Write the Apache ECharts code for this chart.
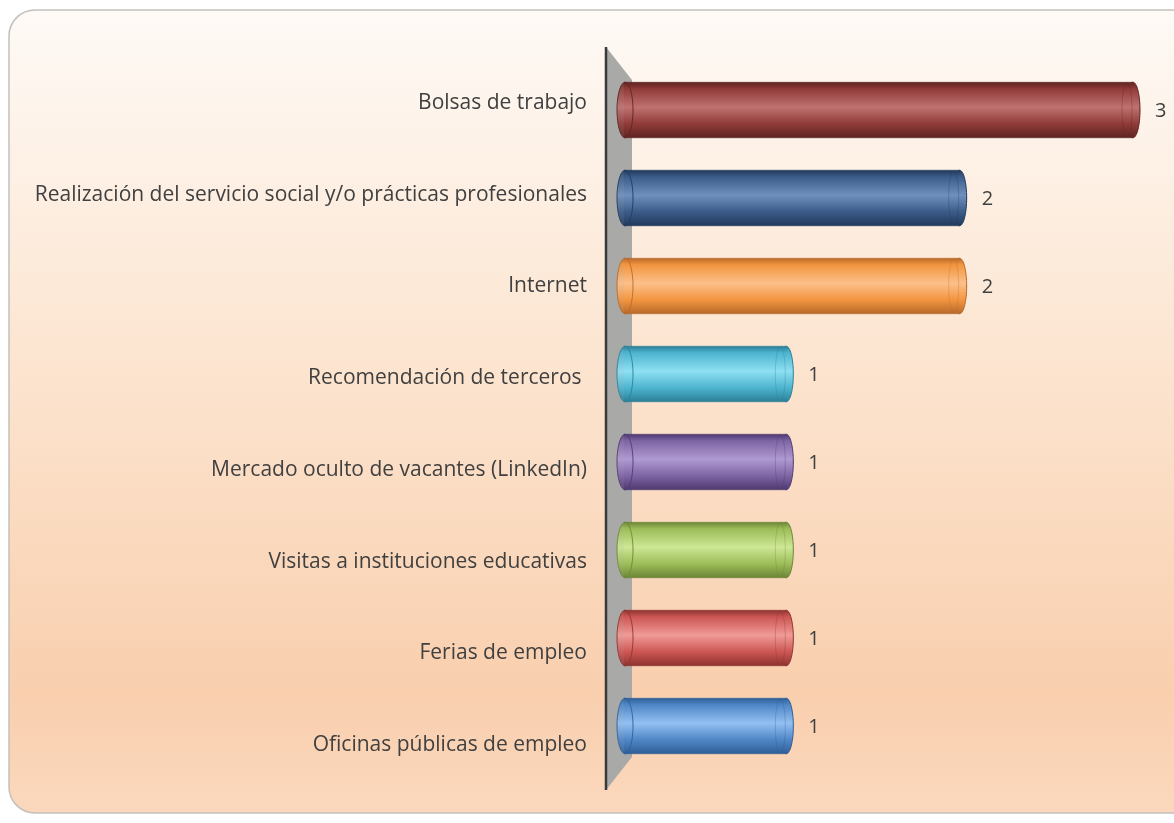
<!DOCTYPE html>
<html>
<head>
<meta charset="utf-8">
<script src="https://cdn.jsdelivr.net/npm/echarts@6/dist/echarts.min.js"></script>
<style>
  html, body { margin: 0; padding: 0; background: #fff; }
  #chart { width: 1174px; height: 823px; }
</style>
</head>
<body>
<div id="chart"></div>
<script type="text/javascript">
// datos
var categorias = [
    'Bolsas de trabajo',
    'Realización del servicio social y/o prácticas profesionales',
    'Internet',
    'Recomendación de terceros ',
    'Mercado oculto de vacantes (LinkedIn)',
    'Visitas a instituciones educativas',
    'Ferias de empleo',
    'Oficinas públicas de empleo'
];
var valores = [3, 2, 2, 1, 1, 1, 1, 1];
// colores de cada cilindro: [oscuro, base, claro]
var colores = [
    ['#5e2422', '#903b39', '#bf7270'],
    ['#213a5c', '#3b5b88', '#6f8fbd'],
    ['#b8692a', '#f2953f', '#fcc08a'],
    ['#2b7f96', '#4db4cf', '#8ee0f2'],
    ['#4f3a70', '#7d64a3', '#b09ad2'],
    ['#6c8636', '#9cbd58', '#cde795'],
    ['#8e3330', '#cc5653', '#f09a97'],
    ['#2f5e97', '#4f86c6', '#93c0f2']
];

function grad(c) {
    return new echarts.graphic.LinearGradient(0, 0, 0, 1, [
        {offset: 0, color: c[0]},
        {offset: 0.12, color: c[1]},
        {offset: 0.45, color: c[2]},
        {offset: 0.75, color: c[1]},
        {offset: 1, color: c[0]}
    ]);
}

var myChart = echarts.init(document.getElementById('chart'));

var option = {
    backgroundColor: 'transparent',
    animation: false,
    graphic: [
        {   // fondo redondeado
            type: 'rect', z: -10, silent: true,
            shape: {x: 9, y: 10, width: 1200, height: 803, r: 26},
            style: {
                fill: new echarts.graphic.LinearGradient(0, 0, 0, 1, [
                    {offset: 0, color: '#fefaf6'},
                    {offset: 0.45, color: '#fce4cf'},
                    {offset: 0.85, color: '#f9cfae'},
                    {offset: 1, color: '#fbd8bd'}
                ]),
                stroke: '#c4c0bc', lineWidth: 1.5
            }
        },
        {   // pared gris
            type: 'polygon', z: -5, silent: true,
            shape: {points: [[606, 47], [632, 80], [632, 757], [606, 790]]},
            style: {fill: '#a9aaa8'}
        },
        {
            type: 'line', z: -4, silent: true,
            shape: {x1: 606, y1: 47, x2: 606, y2: 790},
            style: {stroke: '#3a3a3a', lineWidth: 2.5}
        }
    ],
    grid: [
        {left: 620, right: 34, top: 66, bottom: 53},
        // rejilla solo para las etiquetas (perspectiva)
        {left: 620, right: 34, top: 57, bottom: 32}
    ],
    xAxis: [
        {type: 'value', min: 0, max: 3, show: false, gridIndex: 0},
        {type: 'value', min: 0, max: 3, show: false, gridIndex: 1}
    ],
    yAxis: [
        {
            type: 'category',
            gridIndex: 0,
            inverse: true,
            data: categorias,
            show: false
        },
        {
            type: 'category',
            gridIndex: 1,
            inverse: true,
            data: categorias,
            axisLine: {show: false},
            axisTick: {show: false},
            splitLine: {show: false},
            axisLabel: {
                margin: 33,
                color: '#404040',
                fontSize: 21,
                fontFamily: 'Open Sans'
            }
        }
    ],
    series: [{
        type: 'custom',
        xAxisIndex: 0,
        yAxisIndex: 0,
        data: valores.map(function (v, i) { return [v, i]; }),
        encode: {x: 0, y: 1},
        renderItem: function (params, api) {
            var i = api.value(1);
            var v = api.value(0);
            var p0 = api.coord([0, i]);
            var p1 = api.coord([v, i]);
            var band = api.size([0, 1])[1];
            var h = band * 0.63;
            var yc = p0[1];
            var rx = 7;
            var xl = p0[0] - 3;
            var xr = p1[0];
            var c = colores[i];
            return {
                type: 'group',
                children: [
                    {
                        type: 'ellipse',
                        shape: {cx: xr - rx, cy: yc, rx: rx, ry: h / 2},
                        style: {fill: grad(c), stroke: c[0], lineWidth: 1}
                    },
                    {
                        type: 'rect',
                        shape: {x: xl + rx, y: yc - h / 2, width: xr - xl - 2 * rx, height: h},
                        style: {fill: grad(c)}
                    },
                    {
                        type: 'line',
                        shape: {x1: xl + rx, y1: yc - h / 2, x2: xr - rx, y2: yc - h / 2},
                        style: {stroke: c[0], lineWidth: 1, opacity: 0.6}
                    },
                    {
                        type: 'line',
                        shape: {x1: xl + rx, y1: yc + h / 2, x2: xr - rx, y2: yc + h / 2},
                        style: {stroke: c[0], lineWidth: 1, opacity: 0.6}
                    },
                    {
                        type: 'ellipse',
                        shape: {cx: xr - 2 * rx + 1, cy: yc, rx: rx - 2, ry: h / 2 - 1},
                        style: {fill: null, stroke: c[0], lineWidth: 1, opacity: 0.3}
                    },
                    {
                        type: 'ellipse',
                        shape: {cx: xl + rx + 1, cy: yc, rx: rx + 1, ry: h / 2},
                        style: {fill: grad([c[0], c[1], c[2], c[1], c[0]]), stroke: c[0], lineWidth: 1, opacity: 0.9}
                    },
                    {
                        type: 'text',
                        style: {
                            x: xr + 15, y: yc + 1,
                            text: String(v),
                            fill: '#404040',
                            font: '20px "Open Sans"',
                            verticalAlign: 'middle',
                            align: 'left'
                        }
                    }
                ]
            };
        }
    }]
};
myChart.setOption(option);
</script>
</body>
</html>
